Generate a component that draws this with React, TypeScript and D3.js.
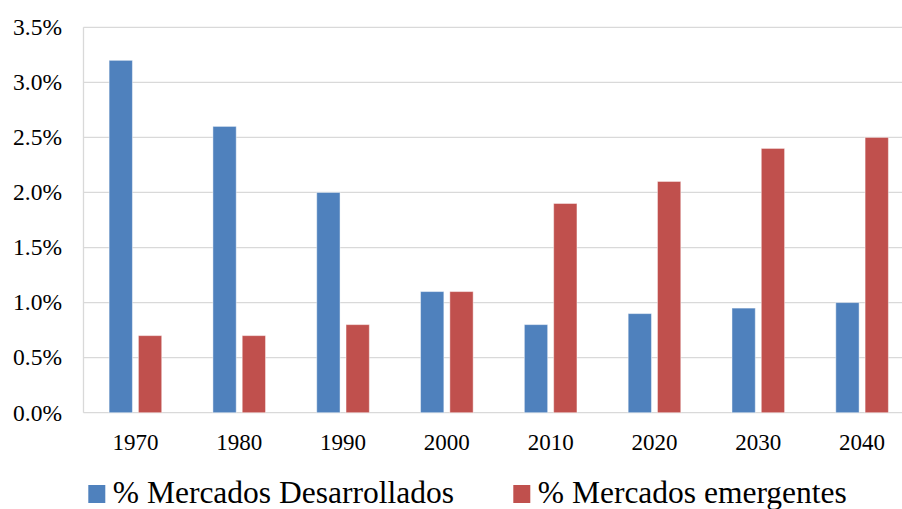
import React from "react";
import * as d3 from "d3";

const categories = ["1970", "1980", "1990", "2000", "2010", "2020", "2030", "2040"];
const developed = [3.2, 2.6, 2.0, 1.1, 0.8, 0.9, 0.95, 1.0];
const emerging = [0.7, 0.7, 0.8, 1.1, 1.9, 2.1, 2.4, 2.5];
const yTicks = [0, 0.5, 1.0, 1.5, 2.0, 2.5, 3.0, 3.5];
const seriesNames = ["% Mercados Desarrollados", "% Mercados emergentes"];
const colors = ["#4F81BD", "#C0504D"];

const W = 902;
const H = 509;
const FONT = "Liberation Serif";

export default function App() {
  const left = 83.5;
  const right = 914;
  const top = 27.3;
  const bottom = 412.7;

  const x = d3.scaleBand<string>().domain(categories).range([left, right]).paddingInner(0).paddingOuter(0);
  const y = d3.scaleLinear().domain([0, 3.5]).range([bottom, top]);
  const bw = x.bandwidth();
  const barW = 23.3;
  const gap = 6;
  const groupW = barW * 2 + gap;
  const offset = (bw - groupW) / 2;

  const series = [developed, emerging];

  return (
    <svg
      width={W}
      height={H}
      style={{ position: "absolute", left: 0, top: 0, background: "#fff", fontFamily: FONT }}
    >
      <rect x={0} y={0} width={W} height={H} fill="#fff" />
      {yTicks.map((t) => (
        <line key={"g" + t} x1={left} x2={W} y1={y(t)} y2={y(t)} stroke="#d9d9d9" strokeWidth={1.3} />
      ))}
      <line x1={left} x2={left} y1={top} y2={bottom} stroke="#d9d9d9" strokeWidth={1.3} />
      {yTicks.map((t) => (
        <text
          key={"yl" + t}
          x={62}
          y={y(t) + 7.8}
          textAnchor="end"
          style={{ fontFamily: FONT, fontSize: "23.5px" }}
          fill="#000"
        >
          {d3.format(".1f")(t) + "%"}
        </text>
      ))}
      {series.map((vals, si) =>
        vals.map((v, i) => (
          <rect
            key={si + "-" + i}
            x={(x(categories[i]) as number) + offset + si * (barW + gap)}
            y={y(v)}
            width={barW}
            height={bottom - y(v)}
            fill={colors[si]}
            stroke="#ffffff"
            strokeOpacity={0.45}
            strokeWidth={1}
          />
        ))
      )}
      {categories.map((c) => (
        <text
          key={"xl" + c}
          x={(x(c) as number) + bw / 2}
          y={449.5}
          textAnchor="middle"
          style={{ fontFamily: FONT, fontSize: "23px" }}
          fill="#000"
        >
          {c}
        </text>
      ))}
      {seriesNames.map((n, i) => {
        const lx = i === 0 ? 88.3 : 513.3;
        return (
          <g key={"lg" + i}>
            <rect x={lx} y={485} width={17} height={18} fill={colors[i]} />
            <text x={lx + 24.5} y={503.3} style={{ fontFamily: FONT, fontSize: "31.5px" }} fill="#000">
              {n}
            </text>
          </g>
        );
      })}
    </svg>
  );
}
